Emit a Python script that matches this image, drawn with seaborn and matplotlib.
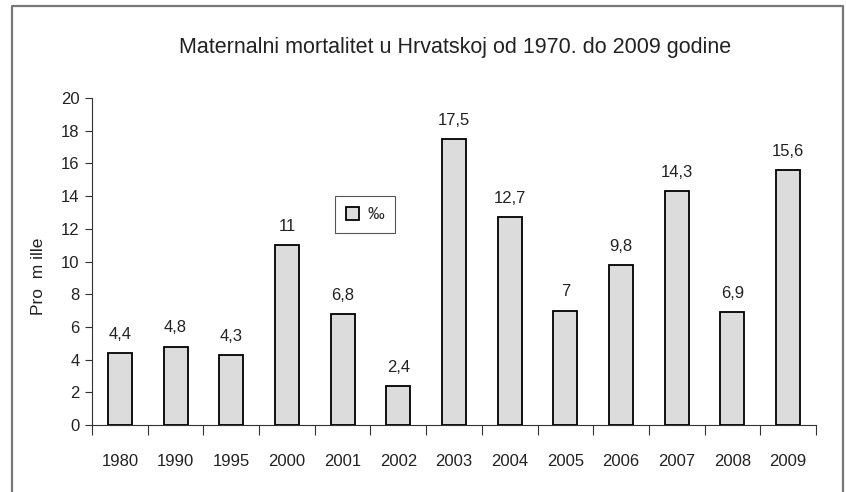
import matplotlib
matplotlib.use('Agg')
import matplotlib.pyplot as plt
import seaborn as sns
from matplotlib.patches import Patch
from matplotlib.lines import Line2D

years = ['1980', '1990', '1995', '2000', '2001', '2002', '2003',
         '2004', '2005', '2006', '2007', '2008', '2009']
values = [4.4, 4.8, 4.3, 11, 6.8, 2.4, 17.5, 12.7, 7, 9.8, 14.3, 6.9, 15.6]
labels = ['4,4', '4,8', '4,3', '11', '6,8', '2,4', '17,5',
          '12,7', '7', '9,8', '14,3', '6,9', '15,6']

sns.set_style('white')
plt.rcParams['font.family'] = ['Liberation Sans', 'DejaVu Sans']

fig = plt.figure(figsize=(8.46, 4.92), dpi=100)
ax = fig.add_axes([92 / 846, 1 - 425 / 492, (816 - 92) / 846, (425 - 98) / 492])

bar_color = '#dcdcdc'
sns.barplot(x=years, y=values, color=bar_color, edgecolor='black',
            linewidth=1.3, width=0.43, saturation=1, ax=ax)

# value labels above bars
for i, (v, lab) in enumerate(zip(values, labels)):
    ax.annotate(lab, (i, v), xytext=(0, 8), textcoords='offset points',
                ha='center', va='bottom', fontsize=12, color='#222222')

ax.set_ylim(0, 20)
ax.set_xlim(-0.5, len(years) - 0.5)
ax.set_yticks(range(0, 21, 2))
ax.tick_params(axis='y', direction='out', length=5, width=0.8,
               color='#333333', labelsize=12, pad=4, left=True,
               labelcolor='#222222')
ax.tick_params(axis='x', which='major', length=0, labelsize=12, pad=21,
               labelcolor='#222222')
ax.set_xticks([i - 0.5 for i in range(len(years) + 1)], minor=True)
ax.tick_params(axis='x', which='minor', direction='out', length=7,
               width=0.8, color='#333333', bottom=True)

for s in ['top', 'right']:
    ax.spines[s].set_visible(False)
for s in ['left', 'bottom']:
    ax.spines[s].set_color('#333333')
    ax.spines[s].set_linewidth(0.8)

ax.set_ylabel('Pro  m ille', fontsize=12.5, color='#222222')
ax.yaxis.set_label_coords(-0.064, 0.455)
ax.set_xlabel('')
fig.text(455 / 846, 1 - 47 / 492,
         'Maternalni mortalitet u Hrvatskoj od 1970. do 2009 godine',
         ha='center', va='center', fontsize=15.5, color='#222222')

handle = Patch(facecolor=bar_color, edgecolor='black', linewidth=1.3)
leg = ax.legend([handle], ['‰'], loc='upper left',
                bbox_to_anchor=(0.336, 0.70), borderaxespad=0,
                fancybox=False, framealpha=1, fontsize=12,
                handlelength=0.8, handleheight=0.8, borderpad=0.65,
                handletextpad=0.5)
leg.get_frame().set_edgecolor('#555555')
leg.get_frame().set_linewidth(0.8)

# outer frame (no bottom edge)
x0, x1, y1 = 11.5 / 846, 842.5 / 846, 1 - 5.5 / 492
fig.add_artist(Line2D([x0, x0, x1, x1], [0, y1, y1, 0],
                      transform=fig.transFigure, color='#777777', lw=1.6))

fig.savefig('out.png', dpi=100)
